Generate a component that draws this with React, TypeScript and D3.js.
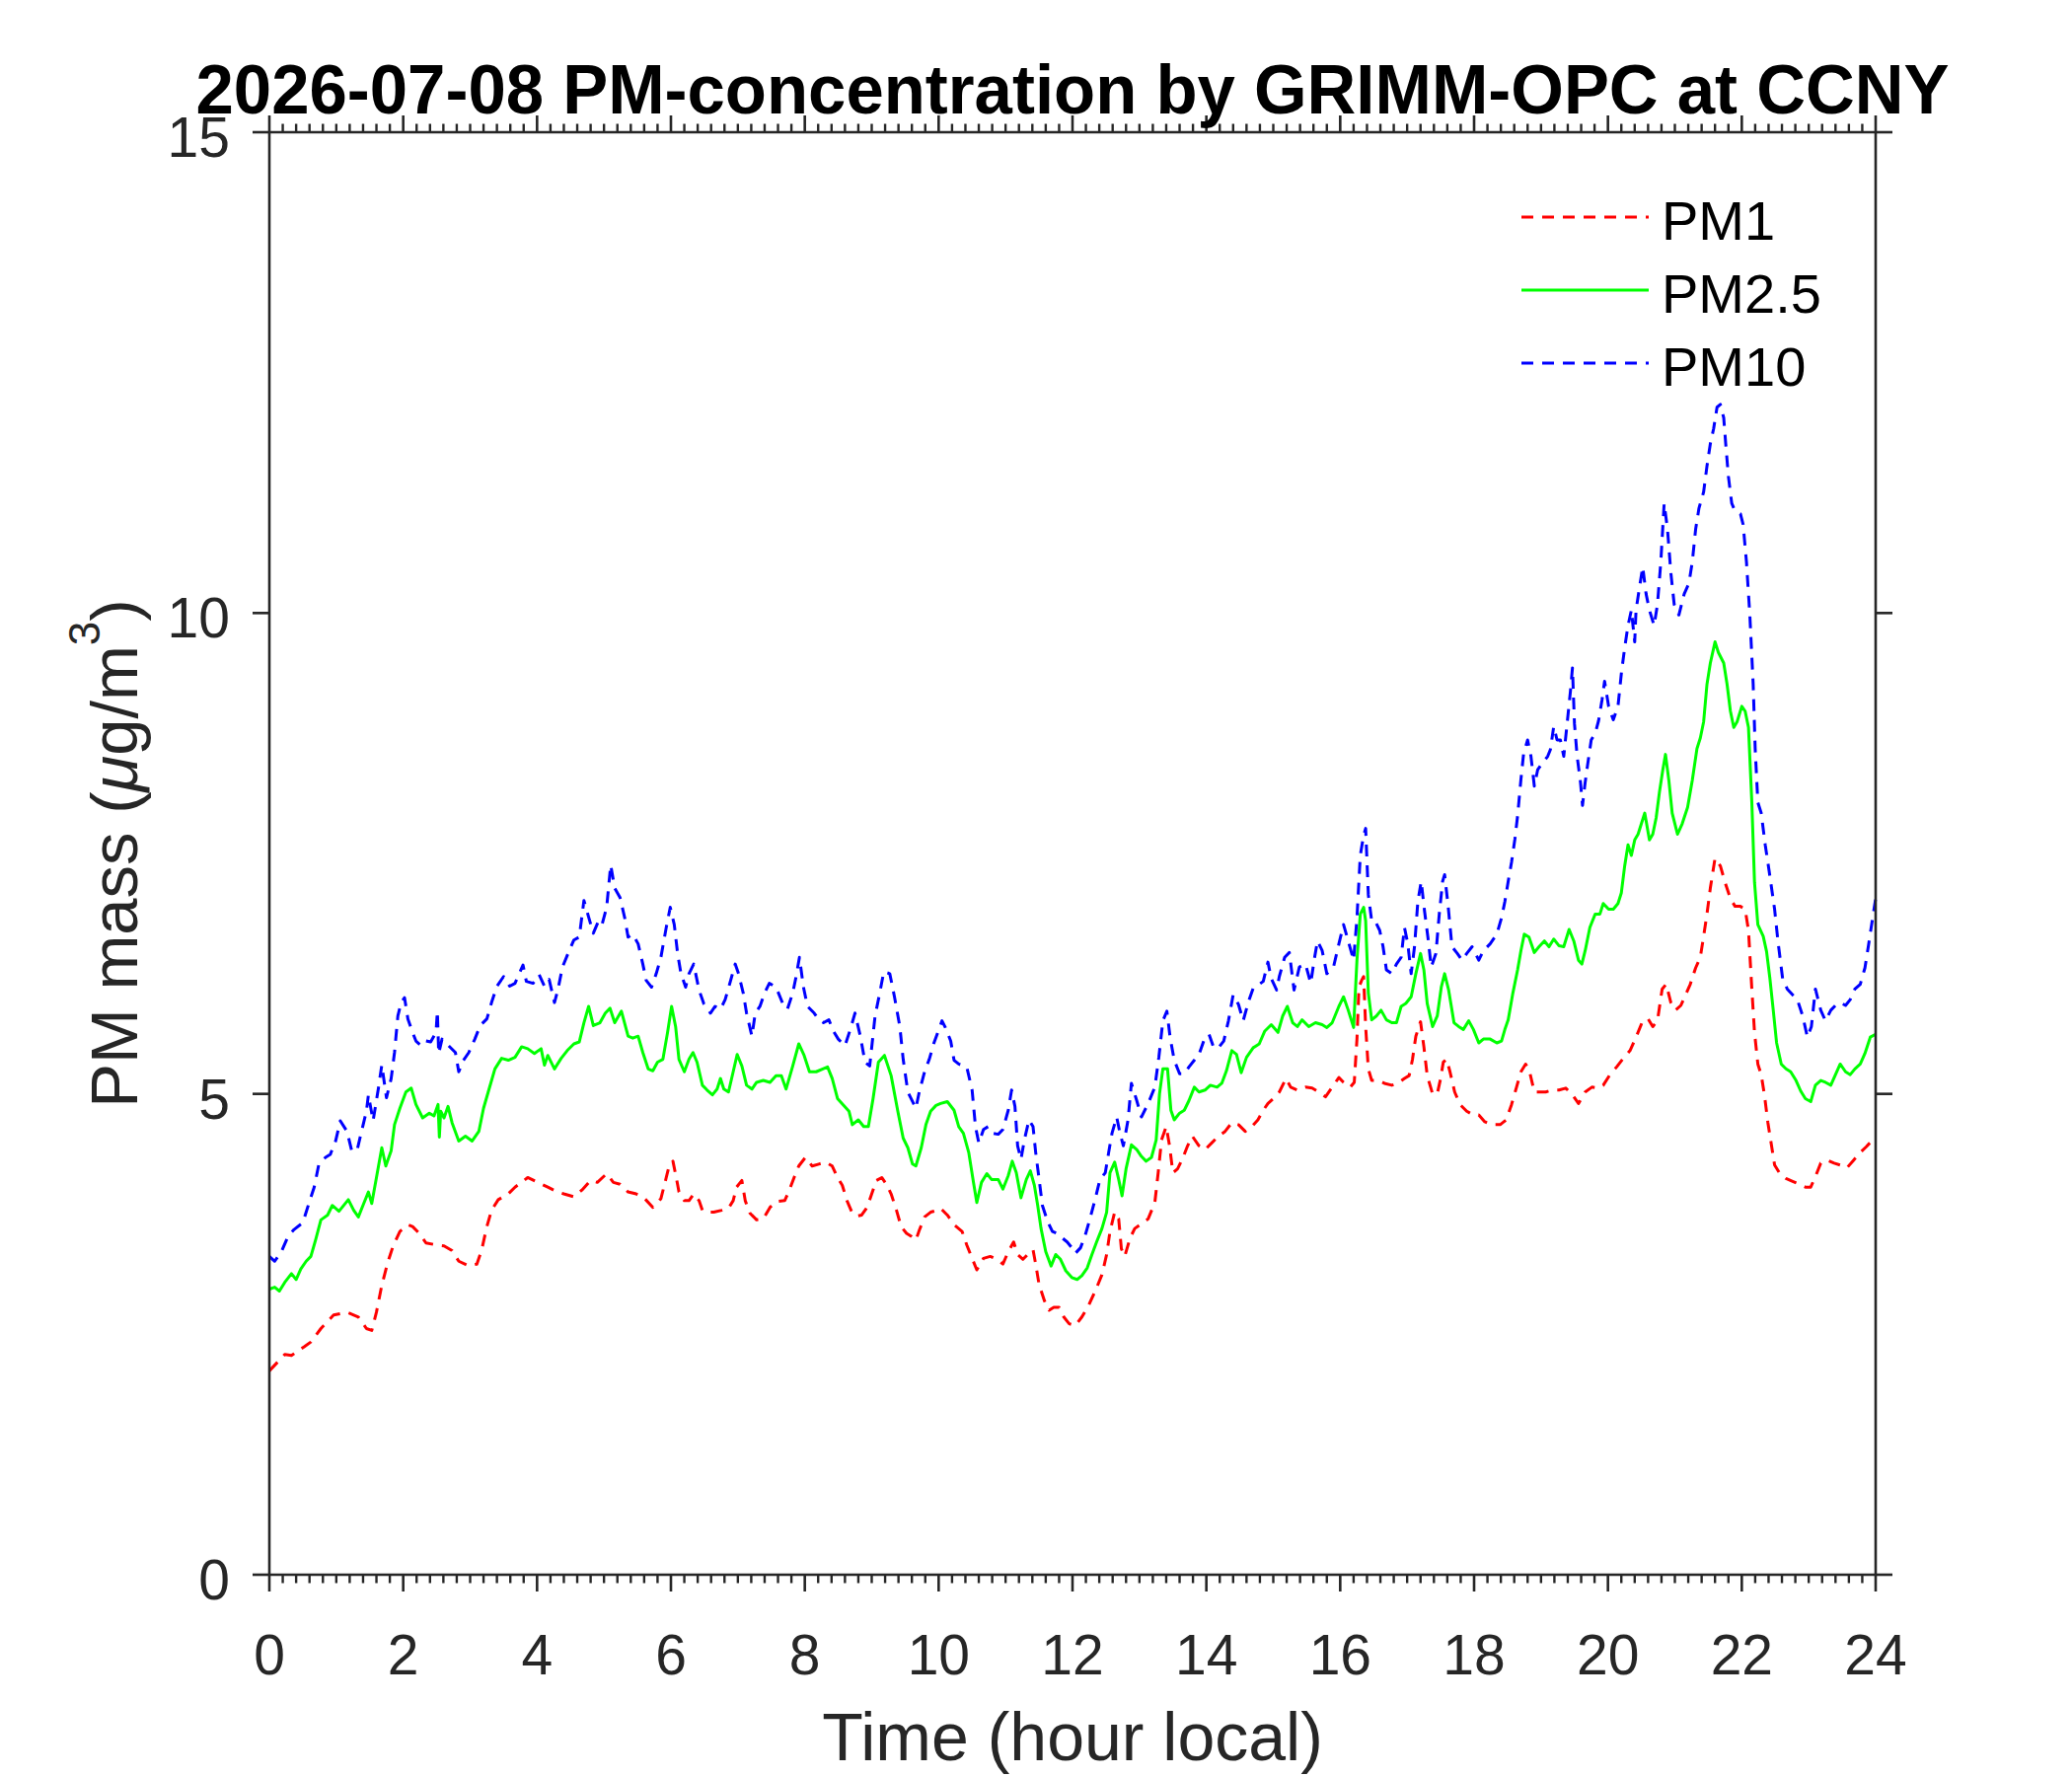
import React from "react";
import * as d3 from "d3";

const chartTitle = "2026-07-08 PM-concentration by GRIMM-OPC at CCNY";
const xTickValues = [0, 2, 4, 6, 8, 10, 12, 14, 16, 18, 20, 22, 24];
const yTickValues = [0, 5, 10, 15];
const seriesNames = ["PM1", "PM2.5", "PM10"];
const seriesColors = ["#ff0000", "#00ff00", "#0000ff"];

// [hour, µg/m3]
const pm1: [number, number][] = [
  [0, 2.12], [0.23, 2.29], [0.33, 2.28], [0.52, 2.37], [0.62, 2.42], [0.77, 2.56], [0.96, 2.7], [1.16, 2.73], [1.33, 2.68], [1.45, 2.56], [1.53, 2.54], [1.6, 2.73], [1.68, 3.01], [1.77, 3.25], [1.85, 3.42], [1.95, 3.57], [2.07, 3.64], [2.14, 3.62], [2.24, 3.55], [2.34, 3.45], [2.49, 3.43], [2.61, 3.42], [2.73, 3.37], [2.83, 3.26], [2.98, 3.21], [3.1, 3.23], [3.17, 3.37], [3.25, 3.62], [3.32, 3.79], [3.42, 3.9], [3.57, 3.96], [3.67, 4.03], [3.86, 4.13], [4.01, 4.08], [4.16, 4.03], [4.31, 3.98], [4.4, 3.96], [4.55, 3.93], [4.67, 4.0], [4.8, 4.1], [4.9, 4.08],
  [5.04, 4.17], [5.14, 4.08], [5.24, 4.06], [5.36, 3.98], [5.48, 3.96], [5.61, 3.91], [5.73, 3.82], [5.85, 3.91], [5.93, 4.13], [5.98, 4.27], [6.03, 4.3], [6.08, 4.13], [6.12, 3.98], [6.2, 3.89], [6.27, 3.89], [6.34, 3.96], [6.42, 3.89], [6.47, 3.79], [6.54, 3.77], [6.64, 3.77], [6.76, 3.79], [6.86, 3.81], [6.93, 3.89], [6.98, 4.03], [7.06, 4.1], [7.11, 3.89], [7.18, 3.76], [7.28, 3.69], [7.38, 3.7], [7.48, 3.82], [7.57, 3.88], [7.7, 3.89], [7.77, 4.0], [7.84, 4.13], [7.91, 4.25], [8.01, 4.34], [8.11, 4.25], [8.21, 4.27], [8.31, 4.29], [8.41, 4.25], [8.49, 4.13], [8.56, 4.05], [8.63, 3.89], [8.71, 3.76], [8.78, 3.73], [8.85, 3.74], [8.93, 3.82], [9.0, 3.96], [9.07, 4.1], [9.15, 4.13], [9.22, 4.06], [9.29, 3.96], [9.37, 3.79], [9.44, 3.62], [9.52, 3.55], [9.59, 3.52], [9.66, 3.48], [9.71, 3.58], [9.79, 3.72], [9.88, 3.77], [9.98, 3.79],
  [10.03, 3.81], [10.13, 3.74], [10.23, 3.64], [10.35, 3.57], [10.42, 3.43], [10.5, 3.29], [10.57, 3.17], [10.67, 3.29], [10.77, 3.31], [10.87, 3.28], [10.96, 3.23], [11.04, 3.36], [11.12, 3.46], [11.18, 3.33], [11.26, 3.28], [11.33, 3.33], [11.41, 3.38], [11.45, 3.23], [11.5, 3.02], [11.58, 2.85], [11.65, 2.75], [11.72, 2.78], [11.8, 2.78], [11.87, 2.68], [11.95, 2.61], [12.04, 2.59], [12.14, 2.68], [12.24, 2.8], [12.34, 2.95], [12.44, 3.12], [12.51, 3.33], [12.56, 3.57], [12.63, 3.77], [12.69, 3.7], [12.73, 3.39], [12.78, 3.31], [12.86, 3.5], [12.93, 3.6], [13.03, 3.65], [13.13, 3.7], [13.23, 3.87], [13.28, 4.18], [13.33, 4.52], [13.4, 4.66], [13.45, 4.46], [13.5, 4.18], [13.57, 4.22], [13.64, 4.32], [13.72, 4.46], [13.79, 4.56], [13.89, 4.46], [13.98, 4.42], [14.08, 4.49], [14.18, 4.56], [14.28, 4.61], [14.38, 4.7], [14.48, 4.68], [14.58, 4.61], [14.68, 4.66], [14.77, 4.73], [14.85, 4.83], [14.92, 4.9],
  [15.0, 4.95], [15.09, 5.02], [15.19, 5.16], [15.26, 5.07], [15.36, 5.04], [15.48, 5.07], [15.58, 5.06], [15.68, 5.02], [15.78, 4.97], [15.88, 5.07], [15.98, 5.17], [16.05, 5.12], [16.15, 5.07], [16.21, 5.12], [16.25, 5.57], [16.28, 6.11], [16.32, 6.18], [16.35, 6.22], [16.38, 5.7], [16.42, 5.26], [16.47, 5.14], [16.57, 5.14], [16.66, 5.11], [16.77, 5.09], [16.86, 5.11], [16.96, 5.16], [17.03, 5.19], [17.08, 5.36], [17.13, 5.6], [17.2, 5.75], [17.25, 5.49], [17.3, 5.19], [17.38, 5.0], [17.45, 5.0], [17.5, 5.16], [17.54, 5.33], [17.59, 5.36], [17.64, 5.23], [17.71, 5.02], [17.79, 4.89], [17.89, 4.82], [17.99, 4.78], [18.07, 4.78], [18.16, 4.71], [18.26, 4.68], [18.39, 4.68], [18.48, 4.73], [18.56, 4.89], [18.63, 5.06], [18.7, 5.23], [18.77, 5.31], [18.83, 5.23], [18.9, 5.02], [18.97, 5.02], [19.07, 5.02], [19.17, 5.04], [19.27, 5.04], [19.37, 5.06], [19.47, 4.99], [19.56, 4.9], [19.66, 5.02], [19.76, 5.07], [19.86, 5.06],
  [19.93, 5.09], [20.03, 5.2], [20.13, 5.28], [20.23, 5.37], [20.33, 5.45], [20.42, 5.59], [20.52, 5.76], [20.6, 5.78], [20.67, 5.7], [20.74, 5.76], [20.81, 6.09], [20.87, 6.14], [20.94, 5.95], [21.01, 5.87], [21.09, 5.92], [21.16, 6.03], [21.23, 6.14], [21.31, 6.31], [21.38, 6.42], [21.43, 6.64], [21.48, 6.87], [21.53, 7.14], [21.6, 7.45], [21.68, 7.37], [21.75, 7.2], [21.83, 7.03], [21.9, 6.95], [21.98, 6.95], [22.05, 6.92], [22.1, 6.7], [22.15, 6.09], [22.19, 5.64], [22.24, 5.31], [22.29, 5.2], [22.34, 4.98], [22.39, 4.7], [22.44, 4.48], [22.49, 4.26], [22.57, 4.17], [22.66, 4.12], [22.76, 4.09], [22.86, 4.06], [22.95, 4.03], [23.03, 4.03], [23.1, 4.14], [23.18, 4.28], [23.28, 4.31], [23.38, 4.28], [23.47, 4.26], [23.57, 4.23], [23.67, 4.31], [23.77, 4.39], [23.86, 4.45], [23.94, 4.51], [24.0, 4.53],
];

const pm25: [number, number][] = [
  [0, 2.97], [0.08, 2.99], [0.15, 2.95], [0.23, 3.04], [0.33, 3.13], [0.4, 3.07], [0.47, 3.18], [0.55, 3.26], [0.62, 3.31], [0.69, 3.48], [0.77, 3.69], [0.87, 3.74], [0.94, 3.84], [1.04, 3.78], [1.18, 3.9], [1.26, 3.79], [1.33, 3.72], [1.41, 3.86], [1.48, 3.98], [1.53, 3.86], [1.6, 4.13], [1.68, 4.44], [1.74, 4.25], [1.82, 4.41], [1.87, 4.68], [1.95, 4.85], [2.04, 5.02], [2.12, 5.06], [2.19, 4.89], [2.29, 4.75], [2.39, 4.8], [2.46, 4.77], [2.52, 4.89], [2.54, 4.55], [2.56, 4.82], [2.61, 4.75], [2.67, 4.87], [2.73, 4.7], [2.83, 4.51], [2.93, 4.56], [3.03, 4.51], [3.13, 4.61], [3.2, 4.85], [3.27, 5.02], [3.37, 5.26], [3.47, 5.37], [3.57, 5.35], [3.67, 5.38], [3.77, 5.49], [3.86, 5.47], [3.96, 5.42], [4.06, 5.47], [4.11, 5.3], [4.16, 5.4], [4.26, 5.26], [4.36, 5.37], [4.45, 5.45], [4.55, 5.52], [4.63, 5.54], [4.7, 5.74], [4.77, 5.91], [4.84, 5.71], [4.94, 5.74],
  [5.02, 5.84], [5.09, 5.89], [5.16, 5.74], [5.26, 5.86], [5.36, 5.6], [5.43, 5.58], [5.51, 5.6], [5.58, 5.43], [5.66, 5.26], [5.73, 5.24], [5.8, 5.33], [5.88, 5.36], [5.95, 5.64], [6.01, 5.91], [6.07, 5.7], [6.12, 5.36], [6.2, 5.23], [6.27, 5.36], [6.33, 5.43], [6.39, 5.33], [6.47, 5.09], [6.54, 5.04], [6.62, 4.99], [6.69, 5.05], [6.74, 5.16], [6.79, 5.05], [6.86, 5.02], [6.93, 5.23], [6.99, 5.41], [7.06, 5.29], [7.13, 5.09], [7.21, 5.05], [7.28, 5.12], [7.38, 5.14], [7.48, 5.12], [7.57, 5.19], [7.65, 5.19], [7.72, 5.05], [7.82, 5.29], [7.91, 5.52], [7.99, 5.4], [8.07, 5.23], [8.17, 5.23], [8.27, 5.26], [8.34, 5.28], [8.41, 5.16], [8.49, 4.95], [8.58, 4.88], [8.66, 4.82], [8.71, 4.68], [8.8, 4.73], [8.88, 4.66], [8.95, 4.66], [9.02, 4.95], [9.1, 5.33], [9.19, 5.4], [9.29, 5.19], [9.39, 4.82], [9.47, 4.54], [9.54, 4.44], [9.61, 4.27], [9.66, 4.25], [9.74, 4.44], [9.81, 4.68], [9.88, 4.82], [9.96, 4.88],
  [10.03, 4.9], [10.13, 4.92], [10.23, 4.83], [10.3, 4.66], [10.37, 4.59], [10.45, 4.39], [10.52, 4.08], [10.57, 3.87], [10.64, 4.08], [10.72, 4.17], [10.79, 4.11], [10.89, 4.11], [10.96, 4.01], [11.04, 4.15], [11.1, 4.3], [11.16, 4.18], [11.23, 3.92], [11.31, 4.11], [11.37, 4.2], [11.43, 4.05], [11.48, 3.84], [11.53, 3.6], [11.6, 3.36], [11.68, 3.21], [11.75, 3.33], [11.82, 3.28], [11.9, 3.16], [11.99, 3.09], [12.07, 3.07], [12.14, 3.11], [12.22, 3.19], [12.29, 3.33], [12.36, 3.46], [12.44, 3.6], [12.51, 3.77], [12.56, 4.18], [12.63, 4.29], [12.69, 4.11], [12.74, 3.94], [12.8, 4.22], [12.88, 4.47], [12.96, 4.42], [13.03, 4.35], [13.1, 4.3], [13.18, 4.34], [13.25, 4.52], [13.3, 5.0], [13.35, 5.26], [13.42, 5.26], [13.47, 4.83], [13.52, 4.73], [13.6, 4.8], [13.67, 4.83], [13.74, 4.93], [13.82, 5.07], [13.89, 5.02], [13.98, 5.04], [14.06, 5.09], [14.16, 5.07], [14.23, 5.11], [14.3, 5.24], [14.38, 5.45], [14.45, 5.41], [14.52, 5.22], [14.6, 5.38], [14.7, 5.48], [14.79, 5.52], [14.87, 5.65], [14.97, 5.72],
  [15.07, 5.64], [15.14, 5.81], [15.21, 5.91], [15.29, 5.74], [15.36, 5.7], [15.43, 5.77], [15.53, 5.7], [15.63, 5.74], [15.73, 5.72], [15.8, 5.69], [15.88, 5.74], [15.98, 5.91], [16.05, 6.01], [16.12, 5.87], [16.2, 5.69], [16.25, 6.39], [16.3, 6.87], [16.35, 6.94], [16.38, 6.8], [16.42, 6.05], [16.47, 5.77], [16.54, 5.81], [16.61, 5.87], [16.69, 5.77], [16.77, 5.74], [16.84, 5.74], [16.91, 5.91], [16.98, 5.94], [17.06, 6.01], [17.13, 6.25], [17.2, 6.46], [17.25, 6.29], [17.3, 5.94], [17.38, 5.7], [17.45, 5.81], [17.51, 6.11], [17.56, 6.25], [17.62, 6.08], [17.7, 5.74], [17.77, 5.7], [17.84, 5.67], [17.92, 5.76], [17.99, 5.67], [18.07, 5.53], [18.14, 5.57], [18.24, 5.57], [18.34, 5.53], [18.41, 5.55], [18.46, 5.67], [18.51, 5.77], [18.58, 6.05], [18.65, 6.29], [18.7, 6.49], [18.75, 6.66], [18.82, 6.63], [18.9, 6.47], [18.97, 6.53], [19.05, 6.59], [19.12, 6.53], [19.19, 6.61], [19.27, 6.54], [19.34, 6.53], [19.42, 6.71], [19.49, 6.59], [19.56, 6.39], [19.61, 6.35], [19.66, 6.49], [19.73, 6.73], [19.81, 6.87], [19.88, 6.87],
  [19.93, 6.98], [20.01, 6.92], [20.08, 6.92], [20.15, 6.98], [20.2, 7.09], [20.25, 7.37], [20.3, 7.59], [20.35, 7.48], [20.4, 7.64], [20.45, 7.7], [20.5, 7.81], [20.55, 7.92], [20.62, 7.64], [20.67, 7.7], [20.72, 7.87], [20.77, 8.14], [20.82, 8.37], [20.86, 8.53], [20.91, 8.26], [20.96, 7.92], [21.04, 7.7], [21.11, 7.81], [21.19, 7.98], [21.26, 8.26], [21.33, 8.59], [21.38, 8.7], [21.43, 8.87], [21.48, 9.26], [21.53, 9.48], [21.6, 9.7], [21.65, 9.59], [21.73, 9.48], [21.78, 9.26], [21.83, 8.98], [21.88, 8.81], [21.93, 8.87], [22.0, 9.03], [22.05, 8.98], [22.1, 8.81], [22.15, 8.03], [22.19, 7.2], [22.24, 6.76], [22.32, 6.64], [22.37, 6.48], [22.42, 6.2], [22.47, 5.87], [22.52, 5.53], [22.59, 5.31], [22.66, 5.26], [22.73, 5.23], [22.81, 5.14], [22.88, 5.03], [22.95, 4.95], [23.03, 4.92], [23.1, 5.09], [23.18, 5.14], [23.25, 5.12], [23.33, 5.09], [23.4, 5.2], [23.47, 5.31], [23.55, 5.23], [23.62, 5.2], [23.69, 5.26], [23.77, 5.31], [23.84, 5.42], [23.92, 5.59], [24.0, 5.62],
];

const pm10: [number, number][] = [
  [0, 3.31], [0.08, 3.26], [0.18, 3.36], [0.28, 3.52], [0.37, 3.59], [0.5, 3.66], [0.59, 3.86], [0.67, 4.03], [0.74, 4.27], [0.84, 4.34], [0.91, 4.37], [0.99, 4.51], [1.06, 4.72], [1.16, 4.61], [1.23, 4.41], [1.31, 4.41], [1.36, 4.56], [1.45, 4.82], [1.48, 4.99], [1.55, 4.72], [1.63, 5.06], [1.68, 5.3], [1.75, 4.96], [1.82, 5.16], [1.87, 5.43], [1.92, 5.81], [1.97, 5.95], [2.02, 6.0], [2.07, 5.78], [2.14, 5.64], [2.19, 5.55], [2.27, 5.5], [2.34, 5.55], [2.41, 5.54], [2.49, 5.64], [2.51, 5.86], [2.53, 5.42], [2.58, 5.57], [2.68, 5.5], [2.78, 5.43], [2.83, 5.23], [2.9, 5.35], [2.98, 5.43], [3.07, 5.57], [3.15, 5.71], [3.25, 5.78], [3.32, 5.95], [3.4, 6.12], [3.5, 6.22], [3.59, 6.12], [3.67, 6.15], [3.79, 6.34], [3.84, 6.17], [3.94, 6.15], [4.03, 6.24], [4.11, 6.12], [4.18, 6.19], [4.26, 5.95], [4.31, 6.08], [4.38, 6.32], [4.48, 6.49], [4.55, 6.6], [4.63, 6.63], [4.7, 7.01], [4.77, 6.84], [4.84, 6.67], [4.92, 6.8],
  [4.97, 6.76], [5.04, 6.94], [5.1, 7.38], [5.16, 7.14], [5.24, 7.04], [5.31, 6.83], [5.36, 6.63], [5.43, 6.66], [5.51, 6.56], [5.58, 6.35], [5.63, 6.18], [5.71, 6.11], [5.78, 6.25], [5.85, 6.42], [5.93, 6.73], [5.99, 6.94], [6.05, 6.76], [6.1, 6.46], [6.15, 6.25], [6.22, 6.11], [6.27, 6.25], [6.34, 6.35], [6.42, 6.08], [6.49, 5.94], [6.59, 5.84], [6.66, 5.91], [6.74, 5.88], [6.81, 5.98], [6.88, 6.15], [6.96, 6.35], [7.01, 6.25], [7.08, 6.05], [7.13, 5.84], [7.21, 5.6], [7.26, 5.84], [7.33, 5.91], [7.4, 6.05], [7.47, 6.15], [7.57, 6.11], [7.67, 5.94], [7.74, 5.88], [7.82, 6.05], [7.87, 6.22], [7.92, 6.42], [7.98, 6.11], [8.04, 5.91], [8.14, 5.84], [8.21, 5.77], [8.28, 5.74], [8.36, 5.77], [8.43, 5.65], [8.5, 5.57], [8.6, 5.5], [8.68, 5.67], [8.75, 5.84], [8.83, 5.6], [8.9, 5.33], [8.97, 5.29], [9.05, 5.81], [9.12, 6.05], [9.18, 6.27], [9.27, 6.25], [9.34, 6.01], [9.42, 5.7], [9.47, 5.36], [9.54, 5.02], [9.61, 4.92], [9.66, 4.85], [9.71, 5.02], [9.79, 5.23], [9.86, 5.36], [9.93, 5.53],
  [10.05, 5.76], [10.1, 5.69], [10.18, 5.55], [10.23, 5.35], [10.3, 5.31], [10.42, 5.28], [10.5, 5.04], [10.55, 4.66], [10.6, 4.49], [10.67, 4.63], [10.74, 4.66], [10.82, 4.59], [10.89, 4.58], [10.96, 4.63], [11.04, 4.83], [11.09, 5.04], [11.14, 4.87], [11.18, 4.46], [11.23, 4.32], [11.28, 4.52], [11.35, 4.73], [11.41, 4.66], [11.45, 4.39], [11.5, 4.12], [11.55, 3.84], [11.63, 3.67], [11.7, 3.57], [11.77, 3.55], [11.85, 3.5], [11.92, 3.46], [11.99, 3.4], [12.04, 3.34], [12.12, 3.4], [12.19, 3.53], [12.26, 3.7], [12.34, 3.91], [12.41, 4.11], [12.49, 4.18], [12.54, 4.39], [12.59, 4.59], [12.66, 4.76], [12.71, 4.59], [12.76, 4.46], [12.83, 4.73], [12.88, 5.11], [12.96, 4.93], [13.03, 4.76], [13.13, 4.9], [13.23, 5.07], [13.29, 5.38], [13.35, 5.76], [13.41, 5.86], [13.46, 5.58], [13.52, 5.35], [13.6, 5.21], [13.67, 5.21], [13.74, 5.28], [13.82, 5.35], [13.89, 5.41], [13.96, 5.55], [14.04, 5.62], [14.11, 5.48], [14.18, 5.48], [14.26, 5.55], [14.33, 5.76], [14.4, 6.03], [14.48, 5.93], [14.55, 5.76], [14.63, 5.96], [14.7, 6.1], [14.77, 6.13], [14.85, 6.17], [14.92, 6.37], [14.97, 6.2],
  [15.05, 6.08], [15.09, 6.22], [15.17, 6.42], [15.24, 6.47], [15.31, 6.08], [15.39, 6.32], [15.48, 6.35], [15.56, 6.15], [15.61, 6.39], [15.66, 6.59], [15.73, 6.49], [15.8, 6.25], [15.9, 6.32], [15.98, 6.56], [16.05, 6.76], [16.12, 6.59], [16.2, 6.39], [16.25, 6.83], [16.3, 7.48], [16.35, 7.69], [16.38, 7.76], [16.42, 7.07], [16.47, 6.8], [16.52, 6.8], [16.59, 6.7], [16.64, 6.53], [16.69, 6.29], [16.77, 6.25], [16.84, 6.35], [16.91, 6.42], [16.96, 6.73], [17.01, 6.56], [17.06, 6.25], [17.11, 6.53], [17.16, 7.0], [17.21, 7.21], [17.26, 6.9], [17.31, 6.63], [17.36, 6.32], [17.43, 6.46], [17.48, 6.87], [17.53, 7.21], [17.56, 7.28], [17.61, 6.97], [17.67, 6.53], [17.75, 6.46], [17.82, 6.39], [17.89, 6.46], [17.97, 6.53], [18.07, 6.39], [18.14, 6.49], [18.24, 6.56], [18.34, 6.66], [18.41, 6.83], [18.46, 7.0], [18.51, 7.21], [18.56, 7.41], [18.61, 7.65], [18.65, 7.89], [18.7, 8.27], [18.74, 8.54], [18.8, 8.68], [18.85, 8.51], [18.9, 8.2], [18.95, 8.37], [19.02, 8.44], [19.1, 8.51], [19.14, 8.58], [19.19, 8.82], [19.24, 8.68], [19.29, 8.68], [19.34, 8.51], [19.39, 8.85], [19.44, 9.19], [19.47, 9.43], [19.5, 8.85], [19.54, 8.51], [19.59, 8.24], [19.62, 8.0], [19.66, 8.24], [19.7, 8.44], [19.75, 8.68], [19.81, 8.75], [19.86, 8.88], [19.91, 9.09], [19.95, 9.29],
  [20.01, 9.03], [20.08, 8.89], [20.15, 9.03], [20.2, 9.37], [20.25, 9.64], [20.3, 9.87], [20.35, 10.03], [20.4, 9.7], [20.42, 10.03], [20.47, 10.26], [20.52, 10.48], [20.57, 10.2], [20.62, 10.03], [20.69, 9.87], [20.74, 10.09], [20.79, 10.53], [20.84, 11.14], [20.89, 10.87], [20.94, 10.42], [20.99, 10.09], [21.06, 9.98], [21.14, 10.2], [21.21, 10.31], [21.26, 10.53], [21.31, 10.87], [21.36, 11.09], [21.43, 11.26], [21.48, 11.53], [21.53, 11.76], [21.58, 11.92], [21.63, 12.14], [21.68, 12.17], [21.73, 12.03], [21.76, 11.76], [21.8, 11.42], [21.85, 11.14], [21.9, 11.06], [21.98, 11.03], [22.02, 10.92], [22.07, 10.53], [22.12, 9.98], [22.17, 9.26], [22.2, 8.59], [22.24, 8.03], [22.29, 7.92], [22.35, 7.59], [22.41, 7.31], [22.49, 6.92], [22.54, 6.59], [22.61, 6.2], [22.68, 6.09], [22.76, 6.03], [22.83, 5.98], [22.91, 5.81], [22.98, 5.59], [23.04, 5.7], [23.1, 6.09], [23.18, 5.87], [23.25, 5.76], [23.33, 5.87], [23.4, 5.92], [23.47, 5.95], [23.55, 5.92], [23.62, 5.98], [23.69, 6.09], [23.77, 6.14], [23.84, 6.31], [23.89, 6.53], [23.94, 6.76], [24.0, 7.03],
];

const seriesData = [pm1, pm25, pm10];
const seriesDash = ["12 9", "none", "12 9"];

const FONT = "'Liberation Sans', Arial, Helvetica, sans-serif";
const AXIS_COLOR = "#262626";

export default function App() {
  const W = 2100;
  const H = 1800;
  const left = 273, right = 1901, top = 134, bottom = 1596;

  const x = d3.scaleLinear().domain([0, 24]).range([left, right]);
  const y = d3.scaleLinear().domain([0, 15]).range([bottom, top]);
  const line = d3.line<[number, number]>().x((d) => x(d[0])).y((d) => y(d[1]));

  const minorX = d3.range(0, 24.0001, 0.2).filter((v) => Math.abs(v / 2 - Math.round(v / 2)) > 1e-6);
  const majorLen = 17;
  const minorLen = 8.5;

  return (
    <svg
      width={W}
      height={H}
      viewBox={`0 0 ${W} ${H}`}
      style={{ position: "absolute", left: 0, top: 0, background: "#fff" }}
      fontFamily={FONT}
    >
      <rect x={0} y={0} width={W} height={H} fill="#ffffff" />

      {/* data */}
      <g fill="none" strokeLinejoin="round">
        {seriesData.map((data, i) => (
          <path
            key={seriesNames[i]}
            d={line(data) || ""}
            stroke={seriesColors[i]}
            strokeWidth={3}
            strokeDasharray={seriesDash[i]}
          />
        ))}
      </g>

      {/* axes box */}
      <g stroke={AXIS_COLOR} strokeWidth={2.6} fill="none">
        <line x1={left} y1={top} x2={right} y2={top} />
        <line x1={left} y1={bottom} x2={right} y2={bottom} />
        <line x1={left} y1={top} x2={left} y2={bottom} />
        <line x1={right} y1={top} x2={right} y2={bottom} />
        {xTickValues.map((t) => (
          <g key={`xt${t}`}>
            <line x1={x(t)} x2={x(t)} y1={bottom} y2={bottom + majorLen} />
            <line x1={x(t)} x2={x(t)} y1={top} y2={top - majorLen} />
          </g>
        ))}
        {minorX.map((t) => (
          <g key={`xm${t.toFixed(1)}`} strokeWidth={2.4}>
            <line x1={x(t)} x2={x(t)} y1={bottom} y2={bottom + minorLen} />
            <line x1={x(t)} x2={x(t)} y1={top} y2={top - minorLen} />
          </g>
        ))}
        {yTickValues.map((t) => (
          <g key={`yt${t}`}>
            <line x1={left} x2={left - majorLen} y1={y(t)} y2={y(t)} />
            <line x1={right} x2={right + majorLen} y1={y(t)} y2={y(t)} />
          </g>
        ))}
      </g>

      {/* tick labels */}
      <g fill={AXIS_COLOR} fontSize={57}>
        {xTickValues.map((t) => (
          <text key={`xl${t}`} x={x(t)} y={1697} textAnchor="middle">
            {t}
          </text>
        ))}
        {yTickValues.map((t) => (
          <text key={`yl${t}`} x={233} y={y(t) + 25} textAnchor="end">
            {t}
          </text>
        ))}
      </g>

      {/* axis labels */}
      <text x={(left + right) / 2} y={1784} textAnchor="middle" fontSize={68} fill={AXIS_COLOR}>
        Time (hour local)
      </text>
      <text
        transform={`translate(139, ${(top + bottom) / 2}) rotate(-90)`}
        textAnchor="middle"
        fontSize={67}
        fill={AXIS_COLOR}
      >
        PM mass (<tspan fontStyle="italic">μ</tspan>g/m<tspan fontSize={44} dy={-38}>3</tspan>
        <tspan dy={38}>)</tspan>
      </text>

      {/* title */}
      <text
        x={(left + right) / 2}
        y={115}
        textAnchor="middle"
        fontSize={70}
        fontWeight="bold"
        fill="#000000"
        textLength={1777}
        lengthAdjust="spacingAndGlyphs"
      >
        {chartTitle}
      </text>

      {/* legend */}
      <g>
        {seriesNames.map((name, i) => {
          const ly = 220 + i * 74;
          return (
            <g key={`lg${name}`}>
              <line
                x1={1542}
                x2={1671}
                y1={ly}
                y2={ly}
                stroke={seriesColors[i]}
                strokeWidth={3}
                strokeDasharray={seriesDash[i]}
              />
              <text x={1684} y={ly + 23} fontSize={56} fill="#000000">
                {name}
              </text>
            </g>
          );
        })}
      </g>
    </svg>
  );
}
